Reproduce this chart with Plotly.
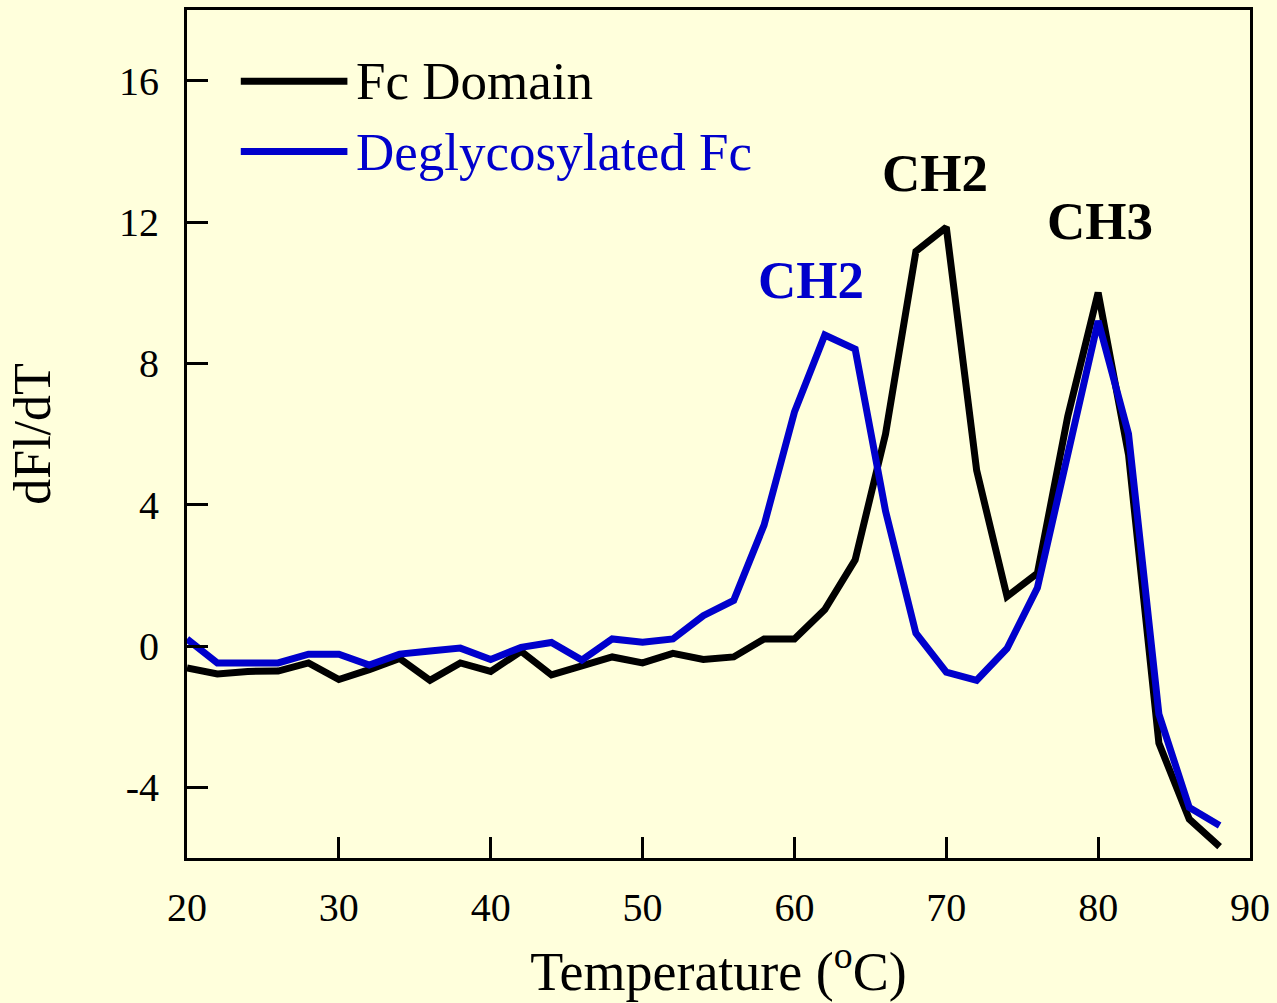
import plotly.graph_objects as go

# Temperature grid (°C) and first-derivative fluorescence traces
temperature = [20, 22, 24, 26, 28, 30, 32, 34, 36, 38, 40, 42, 44, 46, 48, 50, 52, 54,
               56, 58, 60, 62, 64, 66, 68, 70, 72, 74, 76, 78, 80, 82, 84, 86, 88]

fc_domain = [-0.62, -0.79, -0.72, -0.71, -0.48, -0.95, -0.67, -0.35, -0.97, -0.48,
             -0.72, -0.15, -0.82, -0.59, -0.31, -0.48, -0.21, -0.38, -0.31, 0.2,
             0.2, 1.03, 2.44, 6.0, 11.17, 11.85, 4.97, 1.4, 2.06, 6.5,
             10.0, 5.42, -2.75, -4.9, -5.68]

deglycosylated_fc = [0.2, -0.48, -0.48, -0.48, -0.23, -0.23, -0.54, -0.23, -0.14, -0.06,
                     -0.38, -0.04, 0.1, -0.4, 0.2, 0.11, 0.2, 0.86, 1.29, 3.42,
                     6.62, 8.8, 8.4, 3.82, 0.36, -0.74, -0.97, -0.07, 1.65, 5.33,
                     9.2, 6.0, -1.93, -4.57, -5.08]

series_names = ["Fc Domain", "Deglycosylated Fc"]
series_colors = ["#000000", "#0000CC"]

x_tick_vals = [20, 30, 40, 50, 60, 70, 80, 90]
x_tick_text = ["20", "30", "40", "50", "60", "70", "80", "90"]
y_tick_vals = [-4, 0, 4, 8, 12, 16]
y_tick_text = ["-4", "0", "4", "8", "12", "16"]

# Peak labels: text, x, y, colour
peak_labels = [("CH2", 69.25, 13.38, "#000000"),
               ("CH3", 80.1, 12.03, "#000000"),
               ("CH2", 61.1, 10.35, "#0000CC")]

BG = "#FFFFDC"
FONT = "Liberation Serif, Times New Roman, serif"

fig = go.Figure()
for name, ys, col in zip(series_names, [fc_domain, deglycosylated_fc], series_colors):
    fig.add_trace(go.Scatter(x=temperature, y=ys, mode="lines", name=name,
                             line=dict(color=col, width=7), showlegend=False))

# Hand-drawn legend in the upper left corner of the plot area
legend_y = [0.916, 0.833]
shapes = []
annotations = []
for name, col, ly in zip(series_names, series_colors, legend_y):
    shapes.append(dict(type="line", xref="paper", yref="paper",
                       x0=0.0506, x1=0.1509, y0=ly, y1=ly,
                       line=dict(color=col, width=7)))
    annotations.append(dict(xref="paper", yref="paper", x=0.1572, y=ly,
                            xanchor="left", yanchor="middle", showarrow=False,
                            text=name, font=dict(family=FONT, size=53, color=col)))

for txt, lx, ly, col in peak_labels:
    annotations.append(dict(x=lx, y=ly, xref="x", yref="y", showarrow=False,
                            text="<b>" + txt + "</b>", xanchor="center", yanchor="middle",
                            font=dict(family=FONT, size=53, color=col)))

fig.update_layout(
    width=1277, height=1003,
    margin=dict(l=187, r=22, t=7, b=145),
    paper_bgcolor=BG, plot_bgcolor=BG,
    font=dict(family=FONT, color="#000000"),
    shapes=shapes, annotations=annotations,
)

fig.update_xaxes(
    range=[20, 90], tickvals=x_tick_vals, ticktext=x_tick_text,
    ticks="inside", ticklen=21, tickwidth=3, tickcolor="#000000",
    showline=True, linewidth=3, linecolor="#000000", mirror=True,
    showgrid=False, zeroline=False, ticklabelstandoff=12,
    tickfont=dict(family=FONT, size=40, color="#000000"),
    title=dict(text="Temperature (<sup>o</sup>C)", standoff=24,
               font=dict(family=FONT, size=54, color="#000000")),
)
fig.update_yaxes(
    range=[-6, 18], tickvals=y_tick_vals, ticktext=y_tick_text,
    ticks="inside", ticklen=21, tickwidth=3, tickcolor="#000000",
    showline=True, linewidth=3, linecolor="#000000", mirror=True,
    showgrid=False, zeroline=False, ticklabelstandoff=17,
    tickfont=dict(family=FONT, size=40, color="#000000"),
    title=dict(text="dFl/dT", standoff=52,
               font=dict(family=FONT, size=52, color="#000000")),
)

fig.write_html("out.html")
